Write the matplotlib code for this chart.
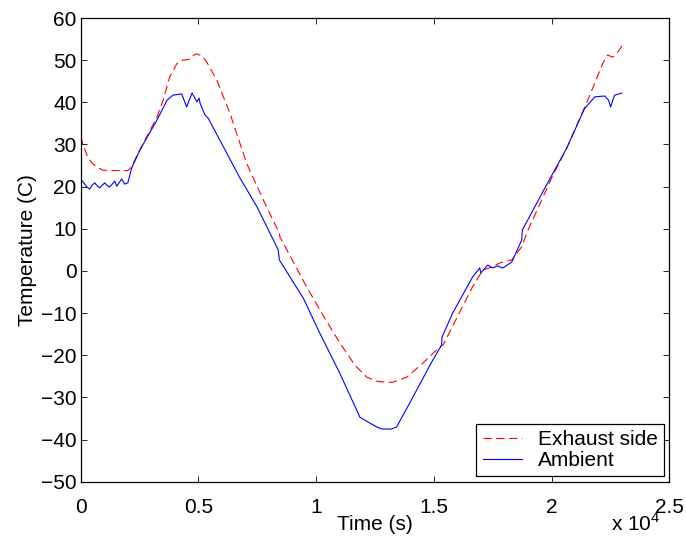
import matplotlib
matplotlib.use("Agg")
import matplotlib.pyplot as plt
from matplotlib.ticker import FuncFormatter

plt.rcParams['font.family'] = ['Liberation Sans', 'DejaVu Sans']
plt.rcParams['mathtext.fontset'] = 'custom'
plt.rcParams['mathtext.rm'] = 'Liberation Sans'

# Ambient (blue, solid) readings: time (s), temperature (C)
ambient_t = [0, 120, 250, 383, 480, 595, 700, 808, 910, 1020, 1120, 1233, 1340,
             1446, 1530, 1640, 1743, 1871, 2000,
             2180, 2520, 3240, 3670, 3920, 4290, 4500, 4730, 4940, 5030, 5070,
             5280, 5420, 6770, 7490, 8390, 8440, 9460, 10150, 11000, 11860,
             12000, 12570, 12800, 13200, 13420, 13980, 14960, 15330, 15350,
             15800, 16650, 16950, 17000, 17290, 17500, 17700, 17930, 18310,
             18730, 18760, 19700, 20650, 21400, 21840, 22260, 22420, 22510,
             22600, 22680, 22980]
ambient_T = [21.6, 21.0, 20.0, 19.4, 20.3, 20.9, 20.2, 19.7, 20.3, 20.9, 20.3, 19.9, 20.6,
             21.3, 20.1, 21.0, 21.8, 20.6, 20.9,
             24.6, 28.7, 35.8, 40.5, 41.7, 42.0, 38.9, 42.2, 40.1, 41.0, 39.8,
             37.0, 36.2, 22.0, 15.2, 5.0, 2.6, -6.5, -14.7, -24.2, -34.7,
             -35.2, -37.0, -37.5, -37.5, -37.0, -31.3, -21.1, -17.6, -15.7,
             -10.0, -1.4, 0.7, -0.5, 1.4, 0.7, 1.2, 0.7, 2.1,
             7.3, 9.7, 19.5, 29.2, 38.5, 41.3, 41.5, 40.5, 38.9,
             40.5, 41.7, 42.2]

# Exhaust side (red, dashed) readings
exhaust_t = [0, 100, 300, 480, 700, 950, 1400, 2000, 2150, 2520, 3240, 3500,
             3780, 4100, 4330, 4600, 4800, 4930, 5150, 5350, 5780, 6340, 7050,
             7760, 8440, 8460, 9600, 10300, 11010, 11640, 12150, 12600, 13000,
             13260, 13850, 14530, 15250, 15390, 16650, 17080, 17500, 17800,
             18310, 18730, 19000, 20000, 20650, 21500, 22180, 22390, 22600,
             22810, 23020]
exhaust_T = [32.0, 30.0, 27.0, 25.6, 24.6, 23.9, 23.8, 23.8, 24.6, 28.8, 36.5, 40.5,
             46.0, 49.3, 50.0, 50.2, 51.2, 51.5, 51.0, 49.6, 45.3, 37.4, 25.5,
             16.8, 8.9, 8.1, -3.8, -10.6, -17.1, -22.3, -25.2, -26.2, -26.4,
             -26.4, -25.2, -21.9, -18.0, -17.6, -3.7, 0.2, 1.0, 1.9,
             2.6, 5.7, 9.7, 22.0, 29.2, 40.0, 49.3, 51.2, 50.7,
             51.9, 53.6]

x_ticks = [0, 5000, 10000, 15000, 20000, 25000]
y_ticks = [-50, -40, -30, -20, -10, 0, 10, 20, 30, 40, 50, 60]

fig = plt.figure(figsize=(6.86, 5.46), dpi=100)
ax = fig.add_axes([0.1176, 0.1178, 0.858, 0.8492])

ax.plot(exhaust_t, exhaust_T, color='#ff0000', lw=0.8, linestyle=(0, (7.5, 4.0)),
        label='Exhaust side')
ax.plot(ambient_t, ambient_T, color='#0000ff', lw=0.8, label='Ambient')

ax.set_xlim(0, 25000)
ax.set_ylim(-50, 60)
ax.set_xticks(x_ticks)
ax.set_yticks(y_ticks)
ax.xaxis.set_major_formatter(FuncFormatter(lambda v, p: '%g' % (v / 1e4)))

ax.tick_params(direction='in', length=4.5, width=0.6, labelsize=15,
               top=True, right=True)
ax.tick_params(axis='x', pad=11.5)
ax.tick_params(axis='y', pad=3)
for s in ax.spines.values():
    s.set_linewidth(0.9)

ax.set_xlabel('Time (s)', fontsize=15, labelpad=-1)
ax.set_ylabel('Temperature (C)', fontsize=15, labelpad=3)

fig.text(0.891, 0.027, r'x 10$^\mathrm{4}$', fontsize=15, ha='left', va='baseline')

leg = ax.legend(loc='lower right', fontsize=15, fancybox=False, framealpha=1,
                edgecolor='black', borderaxespad=0.25, borderpad=0.3,
                labelspacing=0.1, handlelength=1.9, handletextpad=0.75)
leg.get_frame().set_linewidth(0.9)

fig.savefig('out.png', dpi=100)
